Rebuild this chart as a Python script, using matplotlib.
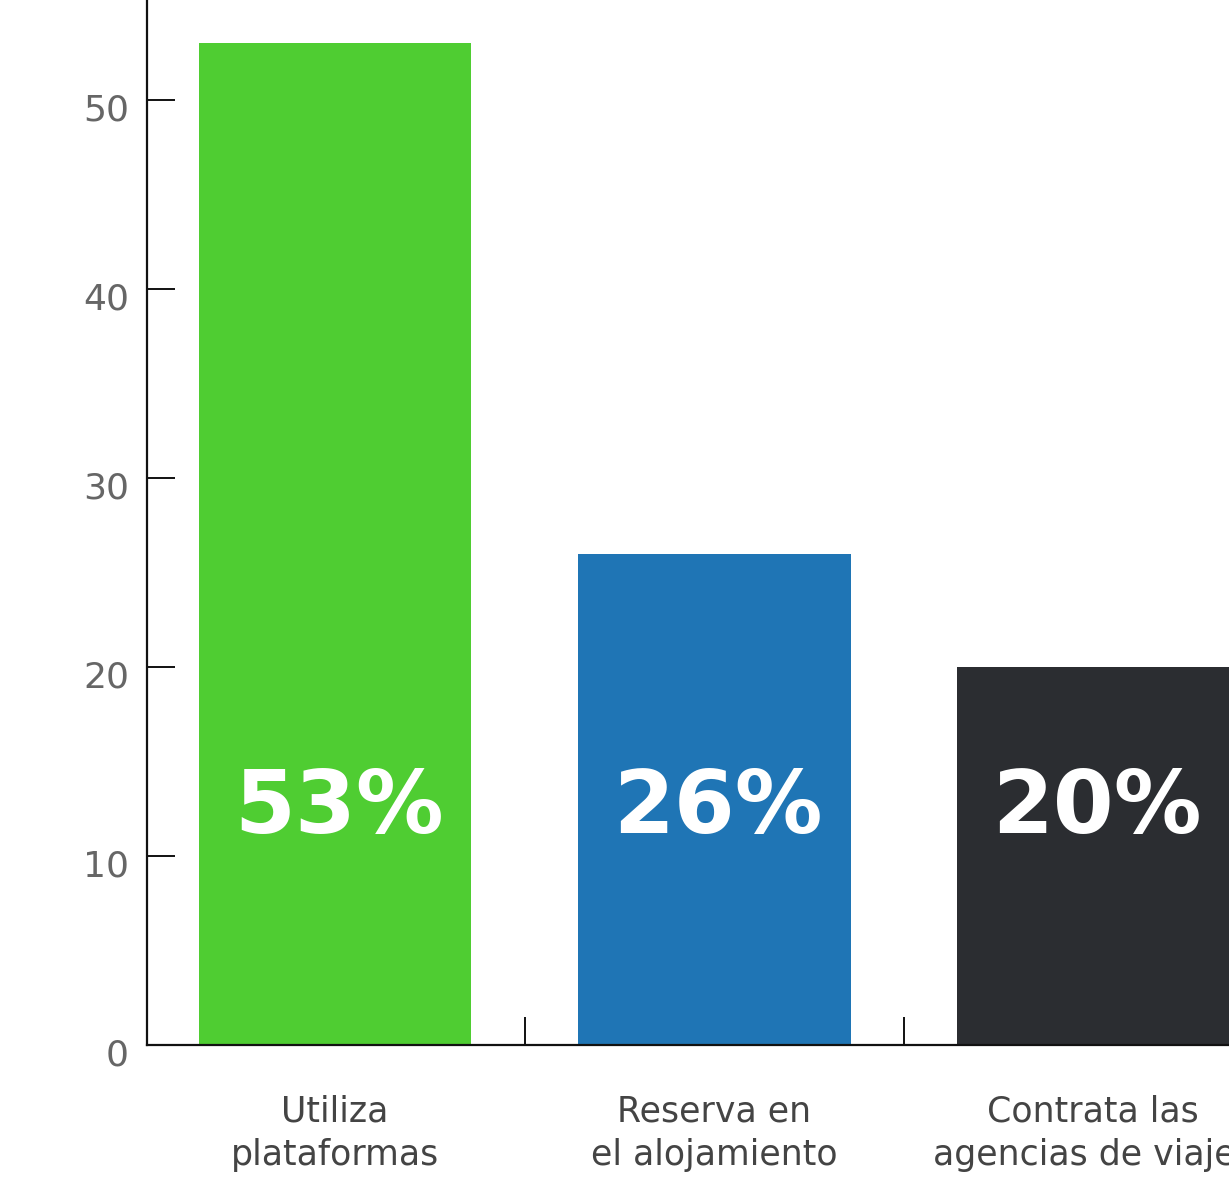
import matplotlib.pyplot as plt
from matplotlib.transforms import ScaledTranslation

categories = ["Utiliza\nplataformas", "Reserva en\nel alojamiento", "Contrata las\nagencias de viajes"]
values = [53, 26, 20]
labels = ["53%", "26%", "20%"]
colors = ["#4fcd32", "#1f75b5", "#2b2d31"]

plt.rcParams["font.family"] = ["DejaVu Sans"]

fig = plt.figure(figsize=(12.29, 11.77), dpi=100)
ax = fig.add_axes([0.1196, 1 - 1045 / 1177, 1 - 0.1196 + 0.0005, 1045 / 1177])

x = list(range(len(values)))
ax.bar(x, values, width=0.72, color=colors, zorder=1)

for xi, v, lab in zip(x, values, labels):
    ax.text(xi + 0.01, 12.5, lab, ha="center", va="center", color="white",
            fontsize=63, fontweight="bold", zorder=3)

ax.set_xlim(-0.496, 2.36)
ax.set_ylim(0, 55.3)

# boundary ticks between categories, labels centered under bars
ax.set_xticks([0.5, 1.5])
ax.set_xticklabels([])
ax.set_xticks(x, minor=True)
ax.set_xticklabels(categories, minor=True, fontsize=25, color="#444444",
                   linespacing=1.35)
ax.tick_params(axis="x", which="minor", length=0, pad=36)
ax.tick_params(axis="x", which="major", direction="in", length=20, width=1.4,
               color="#111111")

ax.set_yticks([0, 10, 20, 30, 40, 50])
ax.tick_params(axis="y", direction="in", length=20, width=1.4, color="#111111",
               labelsize=26, labelcolor="#666666", pad=13)
for t in ax.get_yticklabels():
    t.set_transform(t.get_transform() + ScaledTranslation(0, -7 / 100, fig.dpi_scale_trans))

for side in ["top", "right"]:
    ax.spines[side].set_visible(False)
for side in ["left", "bottom"]:
    ax.spines[side].set_linewidth(1.6)
    ax.spines[side].set_color("#111111")
    ax.spines[side].set_zorder(2)

fig.savefig("out.png", dpi=100)
